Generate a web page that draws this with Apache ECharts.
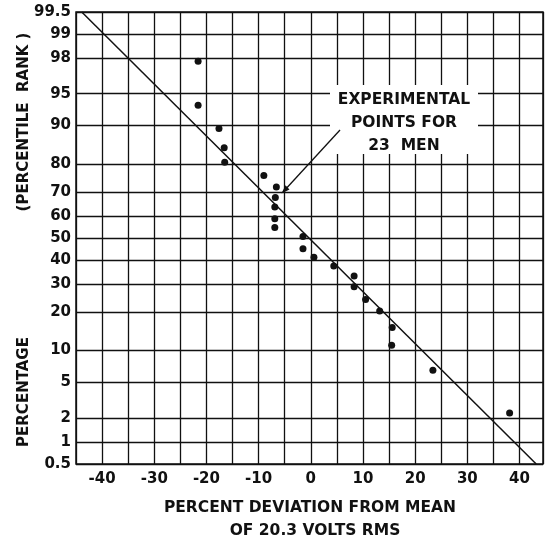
<!DOCTYPE html>
<html>
<head>
<meta charset="utf-8">
<script src="https://cdn.jsdelivr.net/npm/echarts@6/dist/echarts.min.js"></script>
<style>
  html, body { margin: 0; padding: 0; background: #fff; }
  #main { width: 546px; height: 539px; }
</style>
</head>
<body>
<div id="main"></div>
<script>
  // percent deviation from mean (x) and percentile rank (y) for the 23 men
  var deviation = [-21.6, -21.6, -17.6, -16.6, -16.5, -9.0, -6.6, -6.8, -6.9, -6.9, -6.9,
                   -1.5, -1.5, 0.6, 4.4, 8.3, 8.3, 10.5, 13.2, 15.6, 15.5, 23.4, 38.1];
  var percentile = [97.8, 93.5, 89.4, 84.8, 80.6, 76.2, 71.9, 67.8, 63.8, 58.7, 54.8,
                    50.7, 45.1, 41.3, 37.5, 33.2, 28.9, 24.2, 20.3, 15.4, 11.1, 6.6, 2.3];
  // fitted normal line, end points
  var fitX = [-43.9, 43.2];
  var fitP = [99.5, 0.5];
  // probability-paper rulings
  var percentTicks = [0.5, 1, 2, 5, 10, 20, 30, 40, 50, 60, 70, 80, 90, 95, 98, 99, 99.5];

  // inverse normal cdf (Acklam), used to build the probability scale
  function probit(p) {
    var a = [-39.69683028665376, 220.9460984245205, -275.9285104469687, 138.3577518672690, -30.66479806614716, 2.506628277459239];
    var b = [-54.47609879822406, 161.5858368580409, -155.6989798598866, 66.80131188771972, -13.28068155288572];
    var c = [-0.007784894002430293, -0.3223964580411365, -2.400758277161838, -2.549732539343734, 4.374664141464968, 2.938163982698783];
    var d = [0.007784695709041462, 0.3224671290700398, 2.445134137142996, 3.754408661907416];
    var plow = 0.02425, q, r;
    if (p < plow) {
      q = Math.sqrt(-2 * Math.log(p));
      return (((((c[0]*q+c[1])*q+c[2])*q+c[3])*q+c[4])*q+c[5]) / ((((d[0]*q+d[1])*q+d[2])*q+d[3])*q+1);
    }
    if (p > 1 - plow) {
      q = Math.sqrt(-2 * Math.log(1 - p));
      return -(((((c[0]*q+c[1])*q+c[2])*q+c[3])*q+c[4])*q+c[5]) / ((((d[0]*q+d[1])*q+d[2])*q+d[3])*q+1);
    }
    q = p - 0.5; r = q * q;
    return (((((a[0]*r+a[1])*r+a[2])*r+a[3])*r+a[4])*r+a[5])*q / (((((b[0]*r+b[1])*r+b[2])*r+b[3])*r+b[4])*r+1);
  }

  var tickZ = percentTicks.map(function (p) { return probit(p / 100); });
  var points = deviation.map(function (x, i) { return [x, probit(percentile[i] / 100)]; });
  var fitLine = fitX.map(function (x, i) { return [x, probit(fitP[i] / 100)]; });

  var ink = '#111';
  var font = 'DejaVu Sans';

  var chart = echarts.init(document.getElementById('main'));
  var option = {
    animation: false,
    backgroundColor: '#fff',
    grid: {
      left: 76, right: 3, top: 12, bottom: 75,
      show: true, borderColor: ink, borderWidth: 1.5
    },
    xAxis: {
      type: 'value',
      min: -45, max: 44.5, interval: 5,
      axisLine: { show: false },
      axisTick: { show: false },
      axisLabel: {
        color: ink, fontFamily: font, fontWeight: 'bold', fontSize: 15, margin: 8,
        formatter: function (v) { return v % 10 === 0 ? String(v) : ''; }
      },
      splitLine: { show: true, lineStyle: { color: ink, width: 1.3 } }
    },
    yAxis: {
      type: 'value',
      min: tickZ[0], max: tickZ[tickZ.length - 1],
      axisLine: { show: false },
      axisTick: { show: false, customValues: tickZ },
      axisLabel: {
        color: ink, fontFamily: font, fontWeight: 'bold', fontSize: 15, margin: 5,
        customValues: tickZ,
        formatter: function (v) {
          var best = 0;
          tickZ.forEach(function (z, i) { if (Math.abs(z - v) < Math.abs(tickZ[best] - v)) best = i; });
          return String(percentTicks[best]);
        }
      },
      splitLine: { show: true, lineStyle: { color: ink, width: 1.3 } }
    },
    series: [
      {
        type: 'line',
        data: fitLine,
        showSymbol: false,
        lineStyle: { color: ink, width: 1.5 },
        z: 3
      },
      {
        type: 'scatter',
        data: points,
        symbolSize: 7,
        itemStyle: { color: ink, opacity: 1 },
        z: 4
      }
    ],
    graphic: [
      // white patch behind the note
      { type: 'rect', shape: { x: 330, y: 85, width: 148, height: 69 }, style: { fill: '#fff' }, z: 50 },
      {
        type: 'text', x: 404, y: 123, z: 51,
        style: {
          text: 'EXPERIMENTAL\nPOINTS FOR\n23  MEN',
          fill: ink, font: 'bold 15.5px "DejaVu Sans"', lineHeight: 23,
          align: 'center', verticalAlign: 'middle'
        }
      },
      { type: 'line', shape: { x1: 340, y1: 130, x2: 283, y2: 192 }, style: { stroke: ink, lineWidth: 1.3 }, z: 51 },
      {
        type: 'polygon', z: 51,
        shape: { points: [[281.5, 193.5], [289.5, 189.5], [285.5, 185.3]] },
        style: { fill: ink }
      },
      // axis titles
      {
        type: 'text', x: 310, y: 508, z: 51,
        style: {
          text: 'PERCENT DEVIATION FROM MEAN',
          fill: ink, font: 'bold 15.5px "DejaVu Sans"',
          align: 'center', verticalAlign: 'middle'
        }
      },
      {
        type: 'text', x: 315, y: 531, z: 51,
        style: {
          text: 'OF 20.3 VOLTS RMS',
          fill: ink, font: 'bold 15.5px "DejaVu Sans"',
          align: 'center', verticalAlign: 'middle'
        }
      },
      {
        type: 'text', x: 24, y: 392, rotation: Math.PI / 2, z: 51,
        style: { text: 'PERCENTAGE', fill: ink, font: 'bold 15px "DejaVu Sans"', align: 'center', verticalAlign: 'middle' }
      },
      {
        type: 'text', x: 24, y: 122, rotation: Math.PI / 2, z: 51,
        style: { text: '(PERCENTILE  RANK )', fill: ink, font: 'bold 15px "DejaVu Sans"', align: 'center', verticalAlign: 'middle' }
      }
    ]
  };
  chart.setOption(option);
</script>
</body>
</html>
